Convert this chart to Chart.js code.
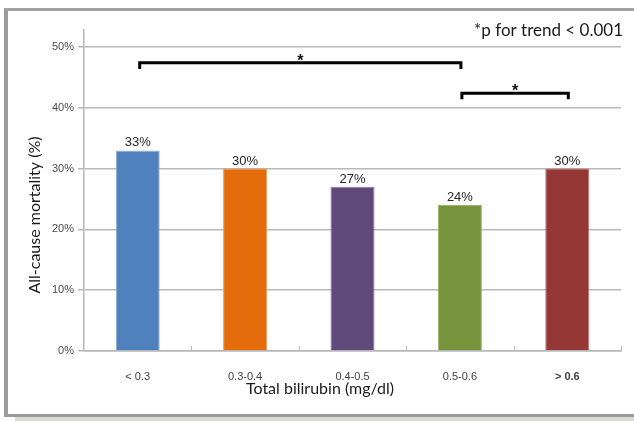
<!DOCTYPE html>
<html>
<head>
<meta charset="utf-8">
<script src="https://cdn.jsdelivr.net/npm/chart.js@4"></script>
<style>
  html, body { margin: 0; padding: 0; background: #fff; overflow: hidden; }
  #wrap { position: relative; width: 634px; height: 422px; overflow: hidden; background: #fff; }
  #shadow { position: absolute; left: 15px; top: 417px; width: 619px; height: 4px; background: #dcd8d4; }
  #frame {
    position: absolute; left: 4px; top: 8px; width: 626px; height: 403px;
    border-left: 4px solid #9c9c9c; border-top: 3px solid #a3a3a3; border-bottom: 3px solid #9a9a9a;
    border-right: none;
    background: #fff;
  }
  #c { position: absolute; left: 0; top: 0; }
</style>
</head>
<body>
<div id="wrap">
  <div id="shadow"></div>
  <div id="frame"></div>
  <canvas id="c" width="634" height="422"></canvas>
</div>
<script>
// Mortality by total bilirubin group
const categories = ['< 0.3', '0.3-0.4', '0.4-0.5', '0.5-0.6', '> 0.6'];
const mortality = [33, 30, 27, 24, 30];
const barColors = ['#4f81bd', '#e46c0a', '#604a7b', '#77933c', '#953735'];
const barEdges = ['#8fb0dc', '#f09a55', '#8a76a3', '#9db569', '#b56a68'];
const yTicks = [0, 10, 20, 30, 40, 50];
// significance brackets: from/to category index, level in %
const brackets = [
  { from: 0, to: 3, level: 47.4, label: '*' },
  { from: 3, to: 4, level: 42.4, label: '*' }
];
const trendNote = '*p for trend < 0.001';
const xTitle = 'Total bilirubin (mg/dl)';
const yTitle = 'All-cause mortality (%)';

const GRID = '#b8b8b8';
const TEXT = '#1a1a1a';

const overlay = {
  id: 'overlay',
  afterDatasetsDraw(chart) {
    const { ctx, chartArea, scales } = chart;
    const x = scales.x, y = scales.y;
    ctx.save();

    // inside tick marks on the category axis
    ctx.strokeStyle = GRID;
    ctx.lineWidth = 1;
    for (let i = 1; i <= categories.length; i++) {
      const px = Math.round(x.getPixelForValue(i - 0.5)) + 0.5;
      ctx.beginPath();
      ctx.moveTo(px, chartArea.bottom);
      ctx.lineTo(px, chartArea.bottom - 5);
      ctx.stroke();
    }

    // value labels
    ctx.fillStyle = '#262626';
    ctx.font = '13px "Liberation Sans", Arial, sans-serif';
    ctx.textAlign = 'center';
    ctx.textBaseline = 'bottom';
    chart.getDatasetMeta(0).data.forEach((bar, i) => {
      ctx.fillText(mortality[i] + '%', bar.x, bar.y - 1);
    });

    // brackets
    ctx.strokeStyle = '#000';
    ctx.lineWidth = 3;
    ctx.lineCap = 'butt';
    ctx.lineJoin = 'miter';
    brackets.forEach(b => {
      const x1 = x.getPixelForValue(b.from) + 2;
      const x2 = x.getPixelForValue(b.to) + 1;
      const yl = y.getPixelForValue(b.level);
      const yd = y.getPixelForValue(b.level - 1);
      ctx.beginPath();
      ctx.moveTo(x1, yd);
      ctx.lineTo(x1, yl);
      ctx.lineTo(x2, yl);
      ctx.lineTo(x2, yd);
      ctx.stroke();
      ctx.fillStyle = '#111';
      ctx.font = 'bold 16px "Liberation Sans", Arial, sans-serif';
      ctx.textBaseline = 'alphabetic';
      ctx.fillText(b.label, (x1 + x2) / 2, yl + 3);
    });

    // titles and note
    ctx.fillStyle = TEXT;
    ctx.font = '16px Lato, "Open Sans", sans-serif';
    ctx.textAlign = 'center';
    ctx.textBaseline = 'middle';
    ctx.fillText(xTitle, 320, 389);

    ctx.save();
    ctx.translate(35, 215);
    ctx.rotate(-Math.PI / 2);
    ctx.fillText(yTitle, 0, 0);
    ctx.restore();

    ctx.textAlign = 'right';
    ctx.font = '17px Lato, "Open Sans", sans-serif';
    ctx.fillText(trendNote, 623, 31);
    ctx.restore();
  }
};

new Chart(document.getElementById('c'), {
  type: 'bar',
  data: {
    labels: categories,
    datasets: [{
      data: mortality,
      backgroundColor: barColors,
      borderColor: barEdges,
      borderWidth: 1,
      barPercentage: 0.41,
      categoryPercentage: 1
    }]
  },
  options: {
    responsive: false,
    animation: false,
    layout: { padding: { top: 30, right: 13, left: 0, bottom: 0 } },
    plugins: { legend: { display: false }, tooltip: { enabled: false } },
    scales: {
      x: {
        offset: true,
        afterFit(s) { s.height = 71; },
        grid: { display: false },
        border: { display: true, color: GRID, width: 1.5 },
        ticks: {
          padding: 11,
          color: '#404040',
          font: (ctx) => ({
            family: '"Liberation Sans", Arial, sans-serif',
            size: 11,
            weight: ctx.index === categories.length - 1 ? 'bold' : 'normal'
          })
        }
      },
      y: {
        min: 0,
        max: 52.8,
        afterFit(s) { s.width = 84; },
        afterBuildTicks(s) { s.ticks = yTicks.map(v => ({ value: v })); },
        grid: { color: GRID, lineWidth: 1.5, tickLength: 6, drawTicks: true },
        border: { display: true, color: GRID, width: 1.5 },
        ticks: {
          padding: 4,
          color: '#4a4a4a',
          font: { family: '"Liberation Sans", Arial, sans-serif', size: 11 },
          callback: (v) => v + '%'
        }
      }
    }
  },
  plugins: [overlay]
});
</script>
</body>
</html>
